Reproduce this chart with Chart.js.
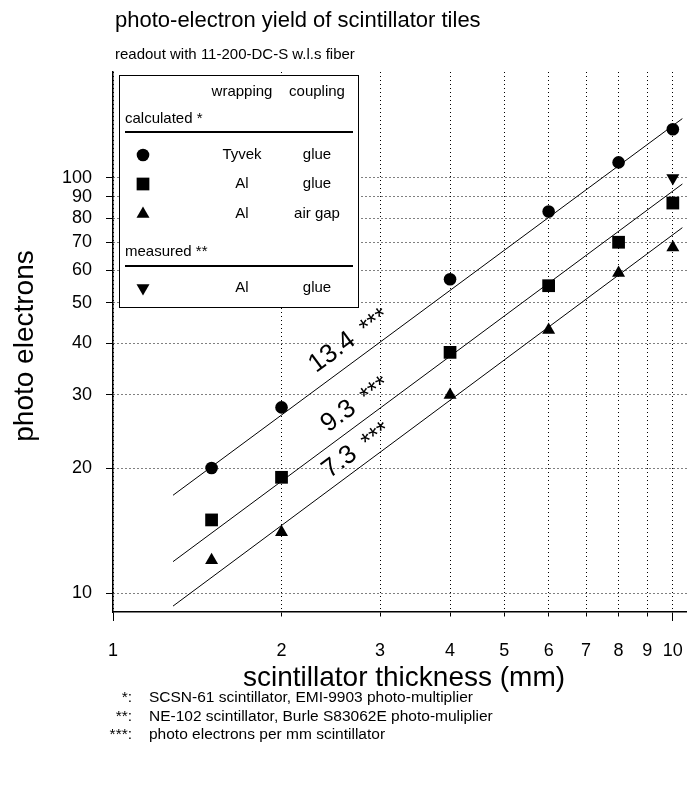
<!DOCTYPE html>
<html>
<head>
<meta charset="utf-8">
<title>photo-electron yield of scintillator tiles</title>
<script src="https://cdn.jsdelivr.net/npm/chart.js@4.4.1/dist/chart.umd.min.js"></script>
<style>
  html, body { margin: 0; padding: 0; background: #fff; }
  canvas { display: block; }
</style>
</head>
<body>
<canvas id="yieldChart" width="687" height="791"></canvas>
<script>
// scintillator thickness (mm)
var thickness = [1.5, 2, 4, 6, 8, 10];
// calculated * photo electrons
var tyvekGlue = [20, 28, 57, 83, 109, 131];
var alGlue = [15, 19, 38, 55, 70, 87];
var alAirGap = [12, 14, 30, 43, 59, 68];
// measured ** photo electrons
var measuredThickness = [10];
var measuredAlGlue = [100];

// fitted lines, start and end point
var fitRange = [1.28, 10.4];
var fitTyvekGlue = [17.2, 139];
var fitAlGlue = [11.9, 96.7];
var fitAlAirGap = [9.3, 75.9];
var fitLabels = ["13.4", "9.3", "7.3"];   // photo electrons per mm

var xTicks = [1, 2, 3, 4, 5, 6, 7, 8, 9, 10];
var yTicks = [10, 20, 30, 40, 50, 60, 70, 80, 90, 100];

var FONT = "'Liberation Sans', Arial, Helvetica, sans-serif";

function toPoints(xs, ys) {
    return xs.map(function(x, i) { return {x: x, y: ys[i]}; });
}

function fitLine(ys) {
    return {
        data: toPoints(fitRange, ys),
        showLine: true,
        borderColor: "#000",
        borderWidth: 1,
        pointRadius: 0,
        pointHoverRadius: 0
    };
}

function markers(xs, ys, style, radius, rotation) {
    return {
        data: toPoints(xs, ys),
        showLine: false,
        pointStyle: style,
        pointRadius: radius,
        pointRotation: rotation || 0,
        pointBackgroundColor: "#000",
        pointBorderColor: "#000",
        pointBorderWidth: 0
    };
}

var datasets = [
    fitLine(fitTyvekGlue),
    fitLine(fitAlGlue),
    fitLine(fitAlAirGap),
    markers(thickness, tyvekGlue, "circle", 6.3),
    markers(thickness, alGlue, "rect", 9),
    markers(thickness, alAirGap, "triangle", 7.5),
    markers(measuredThickness, measuredAlGlue, "triangle", 7.5, 180)
];

function text(ctx, str, x, y, size, align, baseline) {
    ctx.font = size + "px " + FONT;
    ctx.textAlign = align || "left";
    ctx.textBaseline = baseline || "alphabetic";
    ctx.fillText(str, x, y);
}

// titles, footnotes, the table legend and the line labels
var decorations = {
    id: "decorations",
    afterDraw: function(chart) {
        var ctx = chart.ctx;
        ctx.save();
        ctx.fillStyle = "#000";
        ctx.strokeStyle = "#000";

        text(ctx, "photo-electron yield of scintillator tiles", 115, 27, 22);
        text(ctx, "readout with 11-200-DC-S w.l.s fiber", 115, 59, 15);

        text(ctx, "scintillator thickness (mm)", 404, 686, 28, "center");
        ctx.save();
        ctx.translate(33, 346);
        ctx.rotate(-Math.PI / 2);
        text(ctx, "photo electrons", 0, 0, 28, "center");
        ctx.restore();

        var notes = [
            ["*:", "SCSN-61 scintillator, EMI-9903 photo-multiplier"],
            ["**:", "NE-102 scintillator, Burle S83062E photo-muliplier"],
            ["***:", "photo electrons per mm scintillator"]
        ];
        notes.forEach(function(n, i) {
            var y = 702 + i * 18.5;
            text(ctx, n[0], 132, y, 15.5, "right");
            text(ctx, n[1], 149, y, 15.5, "left");
        });

        // legend table
        ctx.fillStyle = "#fff";
        ctx.fillRect(119.5, 75.5, 239, 232);
        ctx.lineWidth = 1;
        ctx.strokeRect(119.5, 75.5, 239, 232);
        ctx.fillStyle = "#000";
        var colA = 242, colB = 317, mx = 143;
        text(ctx, "wrapping", colA, 92, 15, "center", "middle");
        text(ctx, "coupling", colB, 92, 15, "center", "middle");
        text(ctx, "calculated *", 125, 119, 15, "left", "middle");
        ctx.fillRect(125, 131, 228, 2);
        var rows = [
            [155, "circle", 6.3, 0, "Tyvek", "glue"],
            [184, "rect", 9, 0, "Al", "glue"],
            [214, "triangle", 7.5, 0, "Al", "air gap"],
            [288, "triangle", 7.5, 180, "Al", "glue"]
        ];
        rows.forEach(function(r) {
            Chart.helpers.drawPoint(ctx, {pointStyle: r[1], radius: r[2], rotation: r[3], borderWidth: 0}, mx, r[0]);
            text(ctx, r[4], colA, r[0], 15, "center", "middle");
            text(ctx, r[5], colB, r[0], 15, "center", "middle");
        });
        text(ctx, "measured **", 125, 252, 15, "left", "middle");
        ctx.fillRect(125, 265, 228, 2);

        // labels along the fitted lines
        var xScale = chart.scales.x;
        var labelAt = [2.38, 2.49, 2.49];
        var labelGap = [13, 11, 9];
        fitLabels.forEach(function(lab, i) {
            var pts = chart.getDatasetMeta(i).data;
            var p0 = pts[0], p1 = pts[1];
            var ang = Math.atan2(p1.y - p0.y, p1.x - p0.x);
            var px = xScale.getPixelForValue(labelAt[i]);
            var py = p0.y + (px - p0.x) * (p1.y - p0.y) / (p1.x - p0.x);
            ctx.save();
            ctx.translate(px, py);
            ctx.rotate(ang);
            text(ctx, lab, 0, -labelGap[i], 26, "left");
            var w = ctx.measureText(lab).width;
            text(ctx, "***", w + 12, -labelGap[i] + 1, 25, "left");
            ctx.restore();
        });
        ctx.restore();
    }
};

var axisFont = {family: FONT, size: 18};

var chart = new Chart(document.getElementById("yieldChart").getContext("2d"), {
    type: "scatter",
    data: {datasets: datasets},
    options: {
        responsive: false,
        animation: false,
        devicePixelRatio: 1,
        layout: {autoPadding: false, padding: {top: 72, left: 0, right: 0, bottom: 0}},
        plugins: {
            legend: {display: false},
            tooltip: {enabled: false},
            title: {display: false}
        },
        scales: {
            x: {
                type: "logarithmic",
                min: 1,
                max: 10.6,
                afterBuildTicks: function(scale) {
                    scale.ticks = xTicks.map(function(v) { return {value: v}; });
                },
                afterFit: function(scale) {
                    scale.height = 179;
                    scale.paddingLeft = 0;
                    scale.paddingRight = 0;
                },
                ticks: {
                    autoSkip: false,
                    maxRotation: 0,
                    padding: 19,
                    color: "#000",
                    font: axisFont,
                    callback: function(v) { return String(v); }
                },
                grid: {
                    color: "#000",
                    lineWidth: 1,
                    tickLength: 9,
                    tickColor: "#000",
                    tickWidth: 1,
                    tickBorderDash: function(c) {
                        var v = c.tick ? c.tick.value : 0;
                        return (v === 1 || v === 10) ? [] : [4, 40];
                    }
                },
                border: {color: "#000", width: 1.5, dash: [1, 3]}
            },
            y: {
                type: "logarithmic",
                min: 9,
                max: 180,
                afterBuildTicks: function(scale) {
                    scale.ticks = yTicks.map(function(v) { return {value: v}; });
                },
                afterFit: function(scale) {
                    scale.width = 113;
                    scale.paddingTop = 0;
                    scale.paddingBottom = 0;
                },
                ticks: {
                    autoSkip: false,
                    padding: 14,
                    color: "#000",
                    font: axisFont,
                    callback: function(v) { return String(v); }
                },
                grid: {
                    color: "#000",
                    lineWidth: 1,
                    tickLength: 7,
                    tickColor: "#000",
                    tickWidth: 1
                },
                border: {color: "#000", width: 1.5, dash: [1, 3]}
            }
        }
    },
    plugins: [decorations]
});
</script>
</body>
</html>
